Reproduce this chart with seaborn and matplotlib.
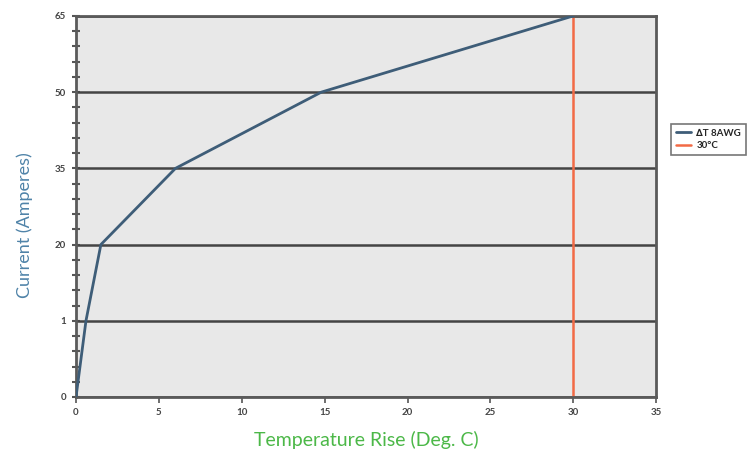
import matplotlib
matplotlib.use("Agg")
import matplotlib.pyplot as plt
import seaborn as sns
import pandas as pd
from matplotlib.ticker import AutoMinorLocator

# data
current_labels = ["0", "1", "20", "35", "50", "65"]
temp_rise = [0, 0.6, 1.5, 6.0, 14.8, 30.0]
limit_temp = 30
series_name = "\u2206T 8AWG"
limit_name = "30\u00b0C"

df = pd.DataFrame({"temp": temp_rise, "pos": range(len(current_labels))})

sns.set_style("white")
plt.rcParams["font.family"] = ["Lato", "DejaVu Sans"]

fig = plt.figure(figsize=(7.49, 4.55), dpi=100)
ax = fig.add_axes([0.1015, 0.1275, 0.7745, 0.8375])
ax.set_facecolor("#e8e8e8")

for i in range(len(current_labels)):
    ax.axhline(i, color="#444444", lw=1.8, zorder=1)

sns.lineplot(data=df, x="temp", y="pos", color="#3e5d78", lw=2.0, ax=ax,
             label=series_name, zorder=3)
ax.axvline(limit_temp, color="#f26a45", lw=1.8, label=limit_name, zorder=2)

ax.set_xlim(0, 35)
ax.set_ylim(0, len(current_labels) - 1)
ax.set_xticks(range(0, 36, 5))
ax.set_yticks(range(len(current_labels)))
ax.set_yticklabels(current_labels)
ax.yaxis.set_minor_locator(AutoMinorLocator(5))
ax.tick_params(axis="y", which="both", direction="inout", left=True, length=6,
               width=1.5, color="#555555", labelsize=7, labelcolor="#444444", pad=4)
ax.tick_params(axis="x", which="major", direction="out", bottom=True, length=4,
               width=1.2, color="#555555", labelsize=7, labelcolor="#444444", pad=4)
for lab in ax.get_xticklabels() + ax.get_yticklabels():
    lab.set_fontweight("bold")

for s in ax.spines.values():
    s.set_color("#5a5a5a")
    s.set_linewidth(2)

ax.set_xlabel("Temperature Rise (Deg. C)", color="#4cb848", fontsize=14, labelpad=10)
ax.set_ylabel("Current (Amperes)", color="#4f83a8", fontsize=13)
ax.yaxis.set_label_coords(-0.075, 0.45)

leg = ax.legend(loc="upper left", bbox_to_anchor=(671 / 749, 1 - 124 / 455),
                bbox_transform=fig.transFigure, frameon=True, fancybox=False,
                handlelength=1.6, handletextpad=0.5, borderpad=0.5,
                borderaxespad=0, labelspacing=0.35,
                prop={"weight": "bold", "size": 7})
leg.get_frame().set_edgecolor("#555555")
leg.get_frame().set_linewidth(1.2)

fig.savefig("out.png", dpi=100)
